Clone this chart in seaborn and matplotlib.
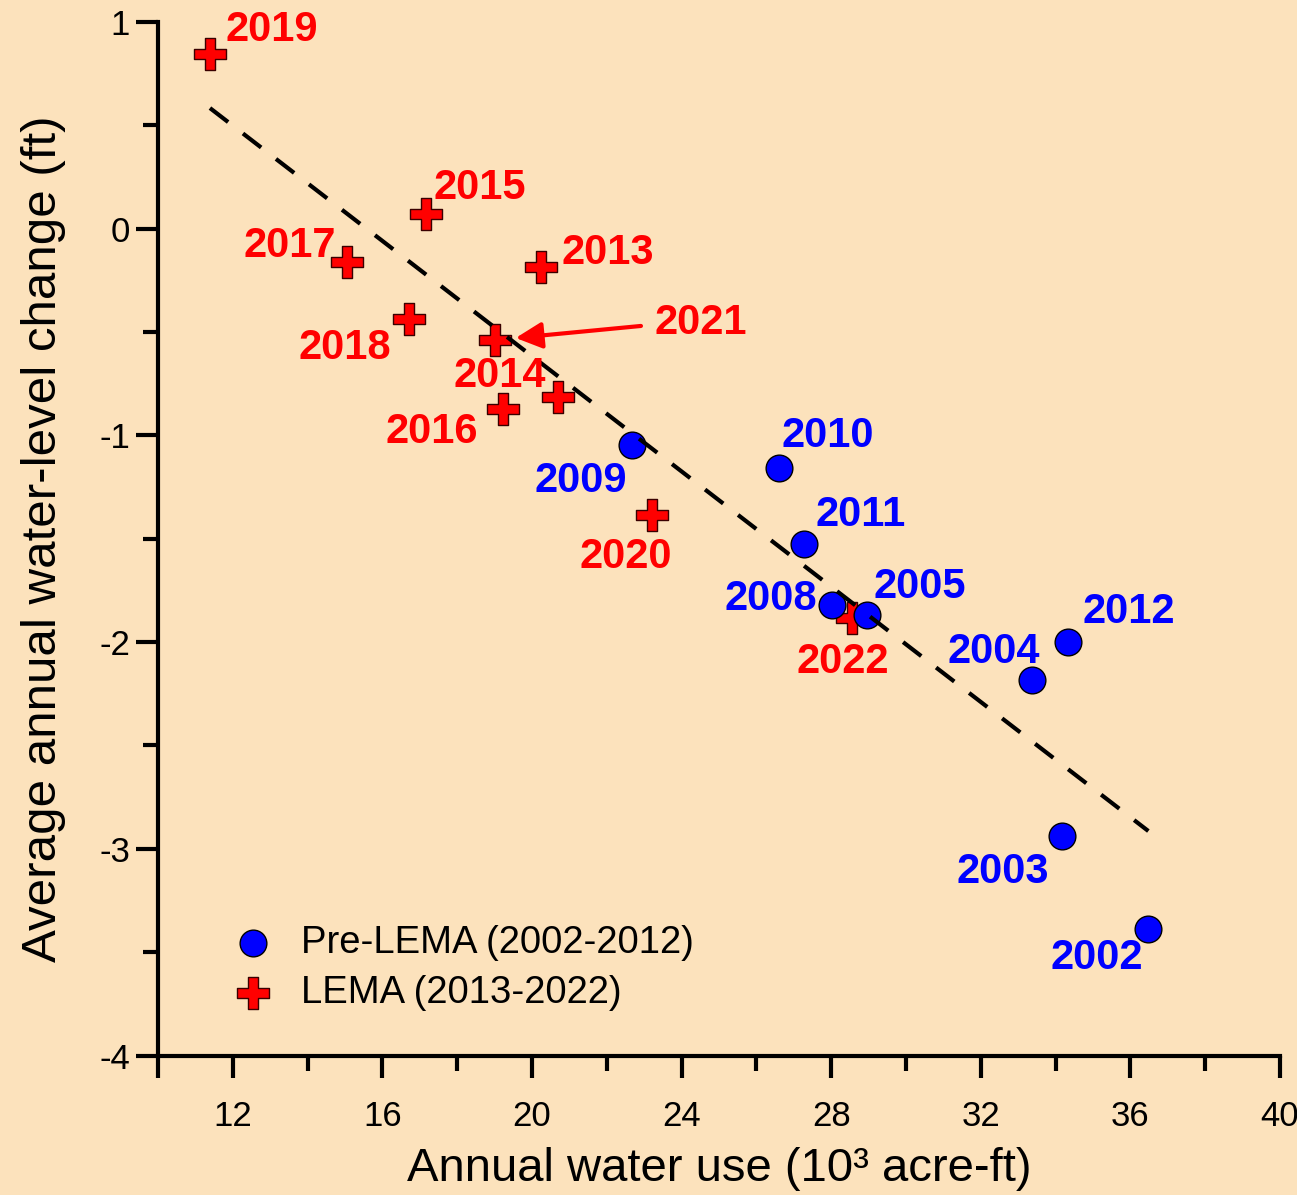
import numpy as np
import pandas as pd
import matplotlib
matplotlib.use("Agg")
import matplotlib.pyplot as plt
import seaborn as sns
from matplotlib.ticker import MultipleLocator, FixedLocator

# Pre-LEMA period (2002-2012)
pre_years = ["2002", "2003", "2004", "2005", "2008", "2009", "2010", "2011", "2012"]
pre_use = [36.48, 34.16, 33.36, 28.95, 28.01, 22.67, 26.60, 27.28, 34.33]
pre_change = [-3.390, -2.939, -2.185, -1.871, -1.823, -1.049, -1.157, -1.527, -1.999]

# LEMA period (2013-2022)
lema_years = ["2013", "2014", "2015", "2016", "2017", "2018", "2019", "2020", "2021", "2022"]
lema_use = [20.23, 20.69, 17.17, 19.22, 15.05, 16.72, 11.39, 23.20, 19.01, 28.55]
lema_change = [-0.185, -0.814, 0.069, -0.872, -0.163, -0.438, 0.846, -1.387, -0.539, -1.886]

# year label placement relative to each point (pixels: right, up)
label_offsets = {
    "2019": (62, 13), "2015": (54, 15), "2017": (-57, 5), "2013": (67, 3),
    "2018": (-64, -40), "2021": (206, 6), "2014": (-58, 10), "2016": (-71, -34),
    "2020": (-26, -53), "2022": (-9, -55), "2009": (-51, -47), "2010": (49, 21),
    "2011": (56, 18), "2008": (-61, -5), "2005": (53, 17), "2004": (-38, 17),
    "2012": (61, 19), "2003": (-59, -47), "2002": (-52, -40),
}

BG = "#FCE2BC"
BLUE = "#0000FF"
RED = "#FF0000"

sns.set_style("ticks")
plt.rcParams["font.family"] = ["Liberation Sans", "DejaVu Sans"]
plt.rcParams["axes.unicode_minus"] = False
plt.rcParams["axes.labelcolor"] = "black"
plt.rcParams["text.color"] = "black"

pre = pd.DataFrame({"year": pre_years, "use": pre_use, "change": pre_change})
lema = pd.DataFrame({"year": lema_years, "use": lema_use, "change": lema_change})

fig = plt.figure(figsize=(12.97, 11.95), dpi=100, facecolor=BG)
ax = fig.add_axes([0.1218, 0.1167, 0.8651, 0.8651])
ax.set_facecolor(BG)

sns.scatterplot(data=lema, x="use", y="change", marker="P", s=560, color=RED,
                edgecolor="#3a0000", linewidth=1.0, ax=ax, zorder=3,
                label="LEMA (2013-2022)")
sns.scatterplot(data=pre, x="use", y="change", marker="o", s=370, color=BLUE,
                edgecolor="black", linewidth=1.0, ax=ax, zorder=4,
                label="Pre-LEMA (2002-2012)")

# least-squares trend through all years
all_x = np.array(pre_use + lema_use)
all_y = np.array(pre_change + lema_change)
slope, intercept = np.polyfit(all_x, all_y, 1)
xs = np.array([all_x.min(), all_x.max()])
ax.plot(xs, slope * xs + intercept, color="black", lw=3.0,
        linestyle=(0, (5.5, 4.5)), zorder=5)

# year labels
for df, col in ((pre, BLUE), (lema, RED)):
    for yr, xv, yv in zip(df["year"], df["use"], df["change"]):
        dx, dy = label_offsets[yr]
        ax.annotate(yr, xy=(xv, yv), xytext=(dx, dy), textcoords="offset pixels",
                    ha="center", va="baseline", fontsize=30, fontweight="bold",
                    color=col, zorder=6)

# arrow pointing at 2021
i21 = lema_years.index("2021")
ax.annotate("", xy=(lema_use[i21], lema_change[i21]), xytext=(146, 14),
            textcoords="offset pixels",
            arrowprops=dict(arrowstyle="-|>,head_length=0.8,head_width=0.4",
                            mutation_scale=20, color=RED, lw=3.0,
                            shrinkA=0, shrinkB=15),
            zorder=6)

ax.set_xlim(10, 40)
ax.set_ylim(-4, 1)
ax.xaxis.set_major_locator(FixedLocator([10, 12, 16, 20, 24, 28, 32, 36, 40]))
ax.set_xticklabels(["", "12", "16", "20", "24", "28", "32", "36", "40"])
ax.xaxis.set_minor_locator(FixedLocator([14, 18, 22, 26, 30, 34, 38]))
ax.yaxis.set_major_locator(MultipleLocator(1))
ax.yaxis.set_minor_locator(MultipleLocator(0.5))

for side in ("top", "right"):
    ax.spines[side].set_visible(False)
for side in ("left", "bottom"):
    ax.spines[side].set_linewidth(3.0)
    ax.spines[side].set_color("black")

ax.tick_params(axis="both", which="major", length=16, width=3.0, labelsize=25,
               direction="out", color="black", labelcolor="black")
ax.tick_params(axis="both", which="minor", length=11, width=3.0, direction="out",
               color="black")
ax.tick_params(axis="x", which="major", pad=16)
ax.tick_params(axis="y", which="major", pad=4)

ax.set_xlabel("Annual water use (10³ acre-ft)", fontsize=34, labelpad=10,
              color="black")
ax.set_ylabel("Average annual water-level change (ft)", fontsize=35.5, labelpad=24,
              color="black")

handles, labels = ax.get_legend_handles_labels()
order = [labels.index("Pre-LEMA (2002-2012)"), labels.index("LEMA (2013-2022)")]
ax.legend([handles[i] for i in order], [labels[i] for i in order],
          loc="lower left", bbox_to_anchor=(0.037, 0.028), frameon=False,
          fontsize=27.5, handletextpad=0.25, labelspacing=0.38, markerscale=1.0,
          borderaxespad=0)

fig.savefig("out.png", dpi=100, facecolor=BG)
